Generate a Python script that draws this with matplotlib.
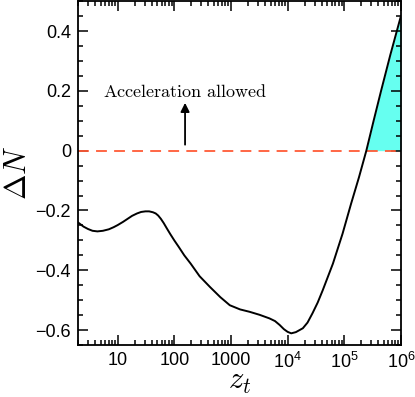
import matplotlib
matplotlib.use('Agg')
import matplotlib.pyplot as plt
from matplotlib.ticker import LogLocator, FixedLocator, MultipleLocator, NullFormatter
import numpy as np

plt.rcParams['font.family'] = 'Liberation Sans'
plt.rcParams['mathtext.fontset'] = 'custom'
plt.rcParams['mathtext.rm'] = 'Liberation Sans'

# curve
z_t = [2, 2.5, 3, 3.6, 4.4, 5.5, 7, 8.5, 10, 12.5, 15, 18, 22, 26, 31, 36, 42,
       47, 52, 58, 65, 75, 85, 100, 120, 150, 195, 280, 427, 650, 955, 1450,
       2138, 3200, 4786, 6000, 7244, 8600, 1.0e4, 1.16e4, 1.4e4, 1.86e4,
       2.25e4, 2.75e4, 3.4e4, 4.17e4, 6.31e4, 9.33e4, 1.318e5, 1.82e5,
       2.455e5, 3.3e5, 4.467e5, 6.5e5, 1e6]
delta_n = [-0.24, -0.254, -0.262, -0.268, -0.27, -0.268, -0.263, -0.256, -0.249,
           -0.238, -0.228, -0.218, -0.21, -0.205, -0.203, -0.203, -0.206,
           -0.21, -0.217, -0.228, -0.242, -0.262, -0.279, -0.3, -0.322, -0.35,
           -0.378, -0.42, -0.456, -0.49, -0.517, -0.531, -0.539, -0.549, -0.561,
           -0.57, -0.583, -0.597, -0.606, -0.611, -0.607, -0.594,
           -0.575, -0.544, -0.508, -0.467, -0.378, -0.278, -0.178, -0.089,
           0.0, 0.1, 0.2, 0.32, 0.45]

xticks = [10, 100, 1000, 1e4, 1e5, 1e6]
xticklabels = ['10', '100', '1000', r'$\mathregular{10^4}$', r'$\mathregular{10^5}$',
               r'$\mathregular{10^6}$']
yticks = [-0.6, -0.4, -0.2, 0, 0.2, 0.4]
yticklabels = ['\u22120.6', '\u22120.4', '\u22120.2', '0', '0.2', '0.4']

z = np.array(z_t)
dn = np.array(delta_n)

fig = plt.figure(figsize=(4.15, 3.97), dpi=100)
ax = fig.add_axes([0.188, 0.131, 0.778, 0.866])

ax.fill_between(z, dn, 0, where=dn >= 0, color='#66fff0', lw=0, interpolate=True)
ax.axhline(0, color='#ff5a36', lw=1.3, dashes=(6, 4))
ax.plot(z, dn, color='black', lw=1.4)

ax.annotate('', xy=(155, 0.16), xytext=(155, 0.02),
            arrowprops=dict(arrowstyle='-|>', color='black', lw=1.3,
                            mutation_scale=13, shrinkA=0, shrinkB=0))
ax.text(155, 0.195, r'$\mathrm{Acceleration\ allowed}$', ha='center', va='center',
        fontsize=13, math_fontfamily='cm')

ax.set_xscale('log')
ax.set_xlim(2, 1e6)
ax.set_ylim(-0.65, 0.5)

ax.xaxis.set_major_locator(FixedLocator(xticks))
ax.set_xticklabels(xticklabels)
ax.xaxis.set_minor_locator(LogLocator(base=10, subs=np.arange(2, 10)))
ax.xaxis.set_minor_formatter(NullFormatter())
ax.yaxis.set_major_locator(FixedLocator(yticks))
ax.set_yticklabels(yticklabels)
ax.yaxis.set_minor_locator(MultipleLocator(0.05))

ax.tick_params(which='both', direction='in', top=True, right=True, width=1.1,
               labelsize=13)
ax.tick_params(which='major', length=7, pad=5)
ax.tick_params(which='minor', length=3.6)
for s in ax.spines.values():
    s.set_linewidth(1.3)

ax.set_xlabel(r'$z_t$', fontsize=22, math_fontfamily='cm', labelpad=-4)
ax.set_ylabel(r'$\Delta N$', fontsize=22, math_fontfamily='cm', labelpad=2)

fig.savefig('out.png', dpi=100)
